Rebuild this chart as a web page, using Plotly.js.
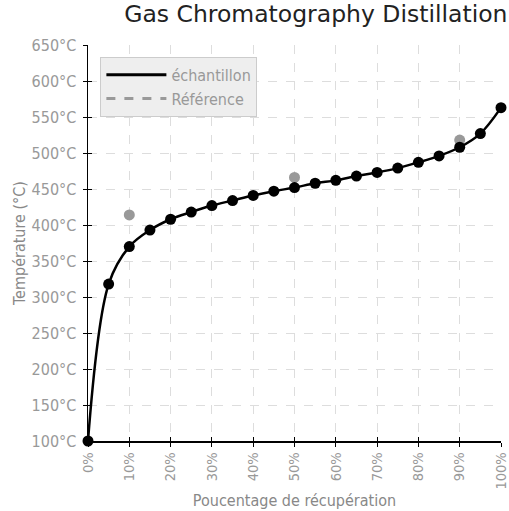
<!DOCTYPE html>
<html><head><meta charset="utf-8">
<script src="https://cdn.plot.ly/plotly-3.0.1.min.js"></script>
<style>body{margin:0;padding:0;background:#fff}#c{width:509px;height:511px}</style>
</head><body><div id="c"></div>
<script>
const recovery = [0,5,10,15,20,25,30,35,40,45,50,55,60,65,70,75,80,85,90,95,100];
const sampleTemp = [100,318,370,393,408,418,427,434,441,447,452,458,462,468,473,479,487,496,508,527,563];
const refRecovery = [10,50,90];
const refTemp = [414,466,518];
const yTicks = [100,150,200,250,300,350,400,450,500,550,600,650];
const xTicks = [0,10,20,30,40,50,60,70,80,90,100];

const narrow = '"DejaVu Sans Condensed", "Liberation Sans Narrow", Arial, sans-serif';
const traces = [
  {x: refRecovery, y: refTemp, mode: 'markers', type: 'scatter', showlegend: false,
   marker: {color: '#999999', size: 11}, cliponaxis: false},
  {x: recovery, y: sampleTemp, mode: 'lines+markers', type: 'scatter', showlegend: false,
   line: {color: '#000', width: 2.5, shape: 'spline', smoothing: 1},
   marker: {color: '#000', size: 11}, cliponaxis: false},
  {x: [null], y: [null], mode: 'lines', name: 'échantillon', line: {color: '#000', width: 3}},
  {x: [null], y: [null], mode: 'lines', name: 'Référence', line: {color: '#999', width: 3, dash: 'dash'}}
];
const layout = {
  width: 509, height: 511,
  margin: {l: 88, r: 8, t: 45, b: 70},
  paper_bgcolor: '#fff', plot_bgcolor: '#fff',
  title: {text: 'Gas Chromatography Distillation', x: 0.997, xanchor: 'right', y: 0.99, yanchor: 'top',
          font: {family: '"DejaVu Sans", sans-serif', size: 23.5, color: '#222'}},
  xaxis: {range: [0, 100], tickvals: xTicks, ticktext: xTicks.map(v => v + '%'), tickangle: -90,
          ticklabeloverflow: 'allow',
          showline: true, linecolor: '#000', linewidth: 1.5, ticks: 'outside', ticklen: 4, tickcolor: '#000',
          showgrid: true, gridcolor: '#dddddd', griddash: 'dash', zeroline: false,
          tickfont: {family: narrow, size: 14.5, color: '#999'},
          title: {text: 'Poucentage de récupération', font: {family: narrow, size: 16, color: '#888'}, standoff: 6}},
  yaxis: {range: [100, 650], tickvals: yTicks, ticktext: yTicks.map(v => v + '°C'),
          showline: true, linecolor: '#000', linewidth: 1.5, ticks: 'outside', ticklen: 4, tickcolor: '#000',
          ticklabelstandoff: 3,
          showgrid: true, gridcolor: '#dddddd', griddash: 'dash', zeroline: false,
          tickfont: {family: narrow, size: 16, color: '#999'},
          title: {text: 'Température (°C)', font: {family: narrow, size: 16, color: '#888'}, standoff: 2}},
  xaxis2: {overlaying: 'x', range: [0, 100], tickvals: xTicks, showticklabels: false, ticks: 'inside', ticklen: 4,
           tickcolor: '#000', showgrid: false, zeroline: false, showline: false, side: 'bottom'},
  yaxis2: {overlaying: 'y', range: [100, 650], tickvals: yTicks, showticklabels: false, ticks: 'inside', ticklen: 4,
           tickcolor: '#000', showgrid: false, zeroline: false, showline: false, side: 'left'},
  legend: {x: 0.03, y: 0.97, xanchor: 'left', yanchor: 'top', bgcolor: '#eeeeee', bordercolor: '#cccccc', borderwidth: 1,
           font: {family: narrow, size: 16, color: '#999'}, tracegroupgap: 0, itemwidth: 60},
  showlegend: true
};
traces.push({x: [0], y: [100], xaxis: 'x2', yaxis: 'y2', mode: 'markers', marker: {opacity: 0}, showlegend: false, hoverinfo: 'skip'});
Plotly.newPlot('c', traces, layout, {displayModeBar: false, staticPlot: true});
</script></body></html>
